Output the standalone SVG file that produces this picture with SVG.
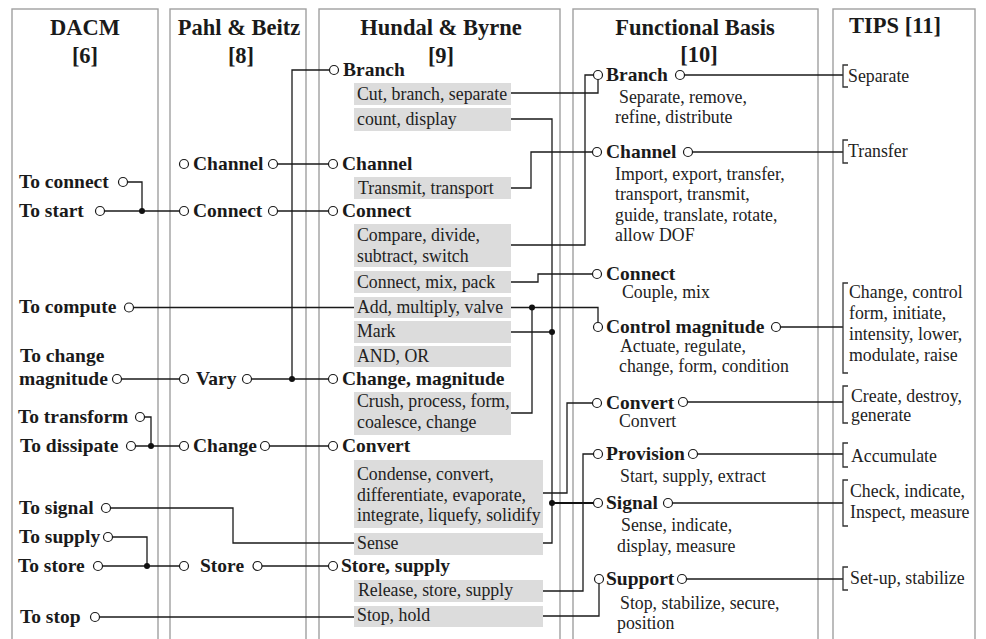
<svg xmlns="http://www.w3.org/2000/svg" width="986" height="639" viewBox="0 0 986 639">
<style>
.col{fill:none;stroke:#a0a0a0;stroke-width:1.4}
.t{font-family:"Liberation Serif","Times New Roman",serif;font-weight:bold;font-size:22.5px;fill:#1a1a1a;text-anchor:middle}
.b{font-family:"Liberation Serif","Times New Roman",serif;font-weight:bold;font-size:19.5px;fill:#1a1a1a}
.r{font-family:"Liberation Serif","Times New Roman",serif;font-size:17.8px;fill:#222}
.p{fill:#fff;stroke:#1a1a1a;stroke-width:1.2}
.box{fill:#dcdcdc}
.c{fill:none;stroke:#1a1a1a;stroke-width:1.3}
.cb{fill:none;stroke:#111;stroke-width:2.2}
.j{fill:#111}
.br{fill:none;stroke:#333;stroke-width:1.3}
</style>
<rect width="986" height="639" fill="#fff"/>
<g id="columns">
<rect class="col" x="12" y="9" width="146" height="700"/>
<rect class="col" x="170" y="9" width="136" height="700"/>
<rect class="col" x="319" y="9" width="241" height="700"/>
<rect class="col" x="573" y="9" width="245" height="700"/>
<rect class="col" x="833" y="9" width="142" height="700"/>
<text class="t" x="85" y="35">DACM</text>
<text class="t" x="85" y="63">[6]</text>
<text class="t" x="239" y="35">Pahl &amp; Beitz</text>
<text class="t" x="241" y="63">[8]</text>
<text class="t" x="441" y="35">Hundal &amp; Byrne</text>
<text class="t" x="441" y="63">[9]</text>
<text class="t" x="695" y="35">Functional Basis</text>
<text class="t" x="699" y="62">[10]</text>
<text class="t" x="849" y="33" style="text-anchor:start">TIPS [11]</text>
</g>
<g id="connectors">
<path class="c" d="M127.5,182H142V211"/>
<path class="c" d="M104.5,211H179.5"/>
<path class="c" d="M277.5,164H328.5"/>
<path class="c" d="M277.5,211H328.5"/>
<path class="c" d="M292,379V70H329.5"/>
<path class="c" d="M121.5,379H179.5"/>
<path class="c" d="M251.5,379H328.5"/>
<path class="c" d="M133.5,307.5H354"/>
<path class="c" d="M144.5,417H151V446"/>
<path class="c" d="M135.5,446H179.5"/>
<path class="c" d="M269.5,446H328.5"/>
<path class="c" d="M110.5,508H233V543H354"/>
<path class="c" d="M112.5,537H147V566"/>
<path class="c" d="M102.5,566H179.5"/>
<path class="c" d="M262,566H328.5"/>
<path class="c" d="M99.5,617H354"/>
<path class="c" d="M511,93H598V79.5"/>
<path class="c" d="M511,119H552V543H543"/>
<path class="c" d="M511,188H531V152H592.5"/>
<path class="c" d="M511,245H585V75H593.5"/>
<path class="c" d="M511,282H538V274H592.5"/>
<path class="c" d="M511,307.5H598V322.5"/>
<path class="c" d="M511,413H532V307.5"/>
<path class="c" d="M511,332H552"/>
<path class="c" d="M543,493H567V403H592.5"/>
<path class="cb" d="M552,503H593.5"/>
<path class="c" d="M543,591H583V454H593.5"/>
<path class="c" d="M543,616H599V583.5"/>
<path class="c" d="M684.5,75H843"/>
<path class="c" d="M692.5,152H843"/>
<path class="c" d="M780.5,327H843"/>
<path class="c" d="M687.5,402H843"/>
<path class="c" d="M697.5,454H843"/>
<path class="c" d="M672.5,503H843"/>
<path class="c" d="M686.5,579H843"/>
<circle class="j" cx="142" cy="211" r="3"/>
<circle class="j" cx="292" cy="379" r="3"/>
<circle class="j" cx="151" cy="446" r="3"/>
<circle class="j" cx="147" cy="566" r="3"/>
<circle class="j" cx="532" cy="307.5" r="3"/>
<circle class="j" cx="552" cy="332" r="3"/>
<circle class="j" cx="552" cy="503" r="3"/>
</g>
<g id="dacm-connect"><text class="b" x="19" y="188">To connect</text><circle class="p" cx="123" cy="182" r="4.5"/></g>
<g id="dacm-start"><text class="b" x="19" y="217">To start</text><circle class="p" cx="100" cy="211" r="4.5"/></g>
<g id="dacm-compute"><text class="b" x="19" y="313">To compute</text><circle class="p" cx="129" cy="307.5" r="4.5"/></g>
<g id="dacm-change-magnitude"><text class="b" x="20" y="362">To change</text><text class="b" x="19" y="385">magnitude</text><circle class="p" cx="117" cy="379" r="4.5"/></g>
<g id="dacm-transform"><text class="b" x="18" y="423">To transform</text><circle class="p" cx="140" cy="417" r="4.5"/></g>
<g id="dacm-dissipate"><text class="b" x="20" y="452">To dissipate</text><circle class="p" cx="131" cy="446" r="4.5"/></g>
<g id="dacm-signal"><text class="b" x="19" y="514">To signal</text><circle class="p" cx="106" cy="508" r="4.5"/></g>
<g id="dacm-supply"><text class="b" x="19" y="543">To supply</text><circle class="p" cx="108" cy="537" r="4.5"/></g>
<g id="dacm-store"><text class="b" x="18" y="572">To store</text><circle class="p" cx="98" cy="566" r="4.5"/></g>
<g id="dacm-stop"><text class="b" x="20" y="623">To stop</text><circle class="p" cx="95" cy="617" r="4.5"/></g>
<g id="pb-channel"><circle class="p" cx="184" cy="164" r="4.5"/><text class="b" x="193" y="170">Channel</text><circle class="p" cx="273" cy="164" r="4.5"/></g>
<g id="pb-connect"><circle class="p" cx="184" cy="211" r="4.5"/><text class="b" x="193" y="217">Connect</text><circle class="p" cx="273" cy="211" r="4.5"/></g>
<g id="pb-vary"><circle class="p" cx="184" cy="379" r="4.5"/><text class="b" x="196" y="385">Vary</text><circle class="p" cx="247" cy="379" r="4.5"/></g>
<g id="pb-change"><circle class="p" cx="184" cy="446" r="4.5"/><text class="b" x="193" y="452">Change</text><circle class="p" cx="265" cy="446" r="4.5"/></g>
<g id="pb-store"><circle class="p" cx="184" cy="566" r="4.5"/><text class="b" x="200" y="572">Store</text><circle class="p" cx="257.5" cy="566" r="4.5"/></g>
<g id="hb-branch"><circle class="p" cx="334" cy="70" r="4.5"/><text class="b" x="343" y="76">Branch</text></g>
<g id="hb-cut"><rect class="box" x="354" y="83" width="157" height="22"/><text class="r" x="357" y="100">Cut, branch, separate</text></g>
<g id="hb-count"><rect class="box" x="354" y="108" width="157" height="23"/><text class="r" x="357" y="125">count, display</text></g>
<g id="hb-channel"><circle class="p" cx="333" cy="164" r="4.5"/><text class="b" x="342" y="170">Channel</text></g>
<g id="hb-transmit"><rect class="box" x="354" y="177" width="157" height="22"/><text class="r" x="358" y="194">Transmit, transport</text></g>
<g id="hb-connect"><circle class="p" cx="333" cy="211" r="4.5"/><text class="b" x="342" y="217">Connect</text></g>
<g id="hb-compare"><rect class="box" x="354" y="224" width="157" height="43"/><text class="r" x="357" y="241">Compare, divide,</text><text class="r" x="357" y="262">subtract, switch</text></g>
<g id="hb-mix"><rect class="box" x="354" y="271" width="157" height="22"/><text class="r" x="357" y="288">Connect, mix, pack</text></g>
<g id="hb-add"><rect class="box" x="354" y="297" width="157" height="21"/><text class="r" x="357" y="313">Add, multiply, valve</text></g>
<g id="hb-mark"><rect class="box" x="354" y="321" width="157" height="22"/><text class="r" x="357" y="337">Mark</text></g>
<g id="hb-and"><rect class="box" x="354" y="346" width="157" height="21"/><text class="r" x="357" y="362">AND, OR</text></g>
<g id="hb-change-magnitude"><circle class="p" cx="333" cy="379" r="4.5"/><text class="b" x="342" y="385">Change, magnitude</text></g>
<g id="hb-crush"><rect class="box" x="354" y="392" width="157" height="43"/><text class="r" x="357" y="407">Crush, process, form,</text><text class="r" x="357" y="428">coalesce, change</text></g>
<g id="hb-convert"><circle class="p" cx="333" cy="446" r="4.5"/><text class="b" x="342" y="452">Convert</text></g>
<g id="hb-condense"><rect class="box" x="354" y="460" width="189" height="68"/><text class="r" x="357" y="480">Condense, convert,</text><text class="r" x="357" y="501">differentiate, evaporate,</text><text class="r" x="357" y="521">integrate, liquefy, solidify</text></g>
<g id="hb-sense"><rect class="box" x="354" y="533" width="189" height="22"/><text class="r" x="357" y="549">Sense</text></g>
<g id="hb-store-supply"><circle class="p" cx="333" cy="566" r="4.5"/><text class="b" x="341" y="572">Store, supply</text></g>
<g id="hb-release"><rect class="box" x="354" y="580" width="189" height="22"/><text class="r" x="358" y="596">Release, store, supply</text></g>
<g id="hb-stop"><rect class="box" x="354" y="606" width="189" height="21"/><text class="r" x="357" y="621">Stop, hold</text></g>
<g id="fb-branch"><circle class="p" cx="598" cy="75" r="4.5"/><text class="b" x="606" y="81">Branch</text><circle class="p" cx="680" cy="75" r="4.5"/><text class="r" x="619" y="103">Separate, remove,</text><text class="r" x="615" y="123">refine, distribute</text></g>
<g id="fb-channel"><circle class="p" cx="597" cy="152" r="4.5"/><text class="b" x="606" y="158">Channel</text><circle class="p" cx="688" cy="152" r="4.5"/><text class="r" x="615" y="180">Import, export, transfer,</text><text class="r" x="615" y="200">transport, transmit,</text><text class="r" x="615" y="221">guide, translate, rotate,</text><text class="r" x="615" y="241">allow DOF</text></g>
<g id="fb-connect"><circle class="p" cx="597" cy="274" r="4.5"/><text class="b" x="606" y="280">Connect</text><text class="r" x="622" y="298">Couple, mix</text></g>
<g id="fb-control"><circle class="p" cx="598" cy="327" r="4.5"/><text class="b" x="606" y="333">Control magnitude</text><circle class="p" cx="776" cy="327" r="4.5"/><text class="r" x="620" y="352">Actuate, regulate,</text><text class="r" x="619" y="372">change, form, condition</text></g>
<g id="fb-convert"><circle class="p" cx="597" cy="403" r="4.5"/><text class="b" x="606" y="409">Convert</text><circle class="p" cx="683" cy="402" r="4.5"/><text class="r" x="619" y="427">Convert</text></g>
<g id="fb-provision"><circle class="p" cx="598" cy="454" r="4.5"/><text class="b" x="606" y="460">Provision</text><circle class="p" cx="693" cy="454" r="4.5"/><text class="r" x="620" y="482">Start, supply, extract</text></g>
<g id="fb-signal"><circle class="p" cx="598" cy="503" r="4.5"/><text class="b" x="606" y="509">Signal</text><circle class="p" cx="668" cy="503" r="4.5"/><text class="r" x="621" y="531">Sense, indicate,</text><text class="r" x="617" y="552">display, measure</text></g>
<g id="fb-support"><circle class="p" cx="599" cy="579" r="4.5"/><text class="b" x="606" y="585">Support</text><circle class="p" cx="682" cy="579" r="4.5"/><text class="r" x="620" y="609">Stop, stabilize, secure,</text><text class="r" x="617" y="629">position</text></g>
<g id="tips-separate"><path class="br" d="M848,65H843V87H848"/><text class="r" x="848" y="82">Separate</text></g>
<g id="tips-transfer"><path class="br" d="M848,140H843V163H848"/><text class="r" x="848" y="157">Transfer</text></g>
<g id="tips-change"><path class="br" d="M848,283H843V373H848"/><text class="r" x="849" y="298">Change, control</text><text class="r" x="849" y="319">form, initiate,</text><text class="r" x="849" y="340">intensity, lower,</text><text class="r" x="849" y="361">modulate, raise</text></g>
<g id="tips-create"><path class="br" d="M848,386H843V423H848"/><text class="r" x="851" y="402">Create, destroy,</text><text class="r" x="851" y="421">generate</text></g>
<g id="tips-accumulate"><path class="br" d="M848,443H843V467H848"/><text class="r" x="851" y="462">Accumulate</text></g>
<g id="tips-check"><path class="br" d="M848,480H843V526H848"/><text class="r" x="850" y="497">Check, indicate,</text><text class="r" x="850" y="518">Inspect, measure</text></g>
<g id="tips-setup"><path class="br" d="M848,567H843V590H848"/><text class="r" x="850" y="584">Set-up, stabilize</text></g>
</svg>
